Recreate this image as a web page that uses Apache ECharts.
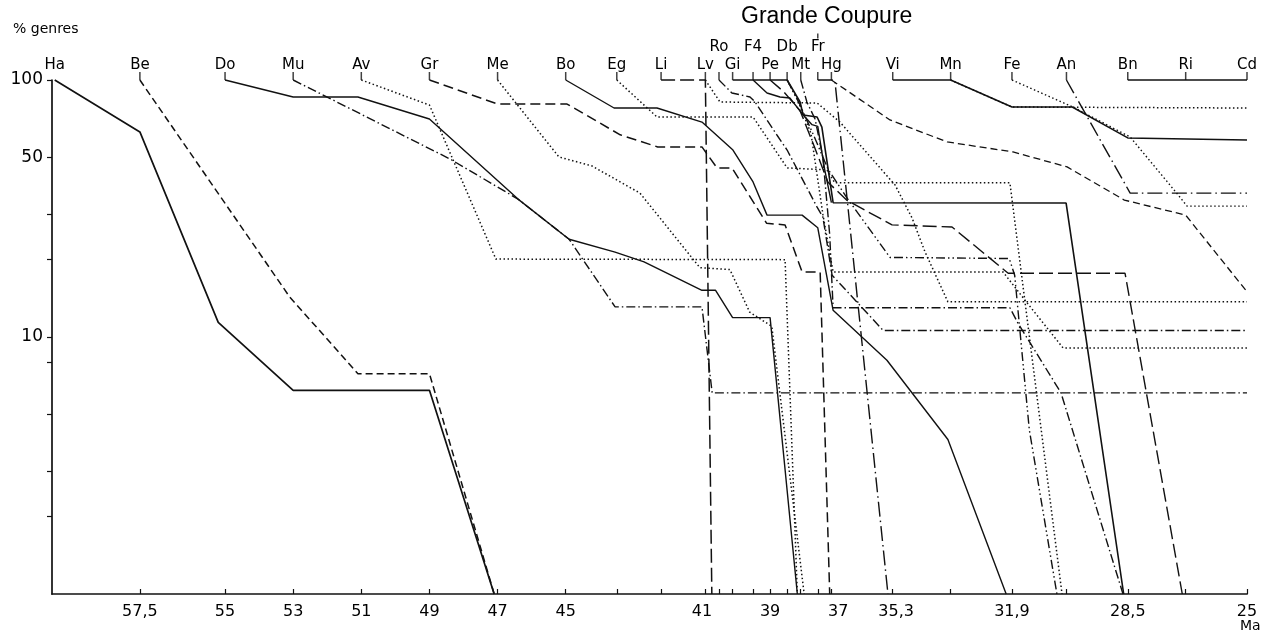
<!DOCTYPE html>
<html><head><meta charset="utf-8">
<script src="https://cdn.jsdelivr.net/npm/echarts@6/dist/echarts.min.js"></script>
<style>html,body{margin:0;padding:0;background:#fff}#c{width:1273px;height:633px}</style>
</head><body><div id="c"></div>
<script>
// Reference levels (stage codes) and their ages in Ma
const stageNames = ['Ha','Be','Do','Mu','Av','Gr','Me','Bo','Eg','Li','Lv','Ro','Gi','F4','Pe','Db','Mt','Fr','Hg','Vi','Mn','Fe','An','Bn','Ri','Cd'];
const stageAges  = [60.0,57.5,55.0,53.0,51.0,49.0,47.0,45.0,43.5,42.2,40.9,40.5,40.1,39.5,39.0,38.5,38.1,37.6,37.2,35.4,33.7,31.9,30.3,28.5,26.8,25.0];
const upperRow = ['Ro','F4','Db','Fr'];
const xTickLabels = [57.5,55,53,51,49,47,45,41,39,37,35.3,31.9,28.5,25];
const yTickLabels = [10,50,100];
const yTicks = [2,3,5,8,10,20,30,50,100];

// Survivorship curves: [Ma, % genres]
const curveHa = [[60.0,100],[57.5,62.8],[55.2,11.4],[53.0,6.2],[49.0,6.2],[47.1,1]];
const curveBe = [[57.5,100],[53.1,14.3],[51.1,7.2],[49.0,7.2],[47.1,1]];
const curveDo = [[55.0,100],[53.0,85.9],[51.1,85.9],[49.0,70.5],[46.4,34.4],[44.9,24.0],[43.55,21.4],[42.7,19.6],[41.0,15.2],[40.6,15.2],[40.1,11.9],[39.0,11.9],[38.2,1]];
const curveMu = [[53.0,100],[48.4,49.3],[46.4,34.4],[44.9,24.0],[43.55,13.1],[41.0,13.1],[40.7,6.06],[25,6.06]];
const curveAv = [[51.0,100],[49.0,79.9],[47.05,20.1],[38.56,20.0],[38.2,1]];
const curveGr = [[49.0,100],[47.0,80.6],[44.96,80.6],[43.4,61.2],[42.3,54.9],[41.0,54.9],[40.56,45.5],[40.12,45.5],[39.1,27.7],[38.56,27.3],[38.06,17.9],[37.53,17.9],[37.25,1]];
const curveMe = [[47.0,100],[45.2,50.2],[44.23,46.3],[42.82,36.3],[41.06,18.6],[40.18,18.3],[39.6,12.5],[38.95,11.0],[38.0,1]];
const curveBo = [[45.0,100],[43.58,77.8],[42.32,77.8],[41.0,68.6],[40.09,53.4],[39.5,40.1],[39.09,29.8],[38.06,29.8],[37.6,26.6],[37.15,12.7],[35.57,8.12],[33.78,3.99],[32.07,1]];
const curveEg = [[43.5,100],[42.32,71.8],[39.5,71.8],[38.5,45.5],[37.33,44.7],[37.1,39.8],[31.96,39.8],[30.43,1]];
const curveLi = [[42.2,100],[40.9,100],[40.71,1]];
const curveLv = [[40.9,100],[40.47,82.1],[37.62,81.4],[36.95,68.6],[35.33,39.0],[34.83,29.0],[34.45,21.4],[33.78,13.7],[25,13.7]];
const curveRo = [[40.5,100],[40.12,89.0],[39.59,85.9],[39.44,82.1],[38.8,61.1],[38.5,53.4],[37.62,32.0],[37.45,29.3],[37.18,17.4],[35.68,10.6],[25,10.6]];
const curveGi = [[40.1,100],[38.5,100],[38.12,82.1],[38.03,73.1],[37.62,71.8],[37.48,65.6],[37.15,33.3],[30.31,33.2],[28.62,1]];
const curveF4 = [[39.5,100],[39.09,89.0],[38.71,85.9],[38.42,85.1],[38.06,74.0],[37.77,67.0],[37.6,66.0],[37.4,45.0],[37.2,33.3]];
const curvePe = [[39.0,100],[38.6,90],[38.12,76],[37.7,55],[37.3,40],[36.74,34.0],[35.42,27.3],[33.66,26.8],[32.01,17.7],[28.58,17.7],[26.9,1]];
const curveDb = [[38.5,100],[38.12,80],[37.7,60],[37.3,45],[36.74,34.7],[35.48,20.4],[31.98,20.2],[31.82,17.4],[31.39,4.35],[30.58,1]];
const curveDb2 = [[38.5,100],[38.2,84],[37.8,62],[37.45,30],[37.15,17.9],[32.16,17.9],[31.46,13.6],[30.40,9.07],[25,9.07]];
const curveMt = [[38.1,100],[37.92,82.1],[37.68,70.5],[37.45,50],[37.25,25],[37.15,13.0],[31.96,13.0],[31.72,11.3],[30.46,6.06],[28.64,1]];
const curveFr = [[37.6,100],[37.1,100],[35.54,1]];
const curveHg = [[37.2,100],[35.48,69.9],[33.8,57.4],[31.87,52.5],[30.28,45.9],[28.6,34.1],[26.8,29.8],[25.0,15.0]];
const curveVi = [[35.4,100],[33.7,100],[31.9,78.5],[30.13,78.5],[28.5,59.5],[25,58.4]];
const curveMn = [[33.7,100],[31.9,78.5],[25,77.8]];
const curveFe = [[31.9,100],[30.11,78.5],[28.43,60.0],[27.02,35.7],[26.76,32.3],[25,32.3]];
const curveAn = [[30.3,100],[28.43,36.3],[25,36.3]];
const curveBn = [[28.5,100],[25,100]];

const dashTypes = {
  solid: 'solid',
  dashed: [7,4],
  dashed2: [10,5],
  longdash: [14,5],
  dotted: [1.5,2.5],
  dashdot: [9,3,1.5,3],
  dashdotdot: [9,3,1.5,3,1.5,3],
  longdashdot: [15,4,1.5,4]
};

const curves = [
  ['Ha', curveHa, 'solid', 1.7], ['Be', curveBe, 'dashed', 1.5], ['Do', curveDo, 'solid', 1.4],
  ['Mu', curveMu, 'dashdot', 1.4], ['Av', curveAv, 'dotted', 1.5], ['Gr', curveGr, 'dashed2', 1.5],
  ['Me', curveMe, 'dotted', 1.5], ['Bo', curveBo, 'solid', 1.4], ['Eg', curveEg, 'dotted', 1.5],
  ['Li', curveLi, 'longdash', 1.5], ['Lv', curveLv, 'dotted', 1.5], ['Ro', curveRo, 'dashdot', 1.4],
  ['Gi', curveGi, 'solid', 1.6], ['F4', curveF4, 'solid', 1.4], ['Pe', curvePe, 'longdash', 1.4],
  ['Db', curveDb, 'dashdotdot', 1.4], ['Db2', curveDb2, 'dotted', 1.5], ['Mt', curveMt, 'dashdot', 1.4],
  ['Fr', curveFr, 'longdashdot', 1.4], ['Hg', curveHg, 'dashed', 1.3], ['Vi', curveVi, 'solid', 1.5],
  ['Mn', curveMn, 'dotted', 1.5], ['Fe', curveFe, 'dotted', 1.4], ['An', curveAn, 'longdashdot', 1.4],
  ['Bn', curveBn, 'solid', 1.5]
];

const INK = '#111111';
const lineSeries = curves.map(([name, data, style, w]) => ({
  type: 'line', name, data, symbol: 'none', clip: false, silent: true,
  lineStyle: { color: INK, width: w, type: dashTypes[style] }
}));

const stubData = stageNames.map((n, i) => ({ name: n, value: [stageAges[i], 100] })).filter(d => d.name !== 'Ha');
const lowerLabels = stageNames.map((n, i) => ({ name: n, value: [stageAges[i], 100] })).filter(d => upperRow.indexOf(d.name) < 0);
const upperLabels = stageNames.map((n, i) => ({ name: n, value: [stageAges[i], 100] })).filter(d => upperRow.indexOf(d.name) >= 0);

const labelFont = { fontFamily: 'DejaVu Sans', fontSize: 15, color: '#000000', opacity: 1 };

const chart = echarts.init(document.getElementById('c'), null, { renderer: 'canvas' });
chart.setOption({
  animation: false,
  backgroundColor: '#ffffff',
  grid: { left: 52, right: 26, top: 80, bottom: 39, containLabel: false, outerBoundsMode: 'none' },
  xAxis: {
    type: 'value', inverse: true, min: 25, max: 60.08,
    axisLine: { show: true, onZero: false, lineStyle: { color: INK, width: 1.7 } },
    axisTick: { show: true, inside: true, length: 5, customValues: stageAges.slice(1), lineStyle: { color: INK, width: 1.2 } },
    axisLabel: { show: true, customValues: xTickLabels, margin: 10, fontFamily: 'DejaVu Sans', fontSize: 16, color: '#000',
      formatter: v => String(v).replace('.', ',') },
    splitLine: { show: false }
  },
  yAxis: {
    type: 'log', logBase: 10, min: 1, max: 100,
    axisLine: { show: true, lineStyle: { color: INK, width: 1.7 } },
    axisTick: { show: true, inside: false, length: 5, customValues: yTicks, lineStyle: { color: INK, width: 1.2 } },
    axisLabel: { show: true, customValues: yTickLabels, margin: 9, fontFamily: 'DejaVu Sans', fontSize: 17, color: '#000' },
    splitLine: { show: false }, minorTick: { show: false }
  },
  graphic: [
    { type: 'text', left: 13, top: 22, style: { text: '% genres', font: '14px "DejaVu Sans"', fill: '#000' } },
    { type: 'text', left: 741, top: 5, style: { text: 'Grande Coupure', font: '23px "Liberation Sans"', fill: '#000' } },
    { type: 'text', left: 1240, top: 619, style: { text: 'Ma', font: '14px "DejaVu Sans"', fill: '#000' } }
  ],
  series: lineSeries.concat([
    { type: 'scatter', name: 'stubs', data: stubData, symbol: 'rect', symbolSize: [1.5, 8], symbolOffset: [0, -4],
      itemStyle: { color: INK }, silent: true, clip: false, z: 3 },
    { type: 'scatter', name: 'frMark', data: [[37.6, 100]], symbol: 'rect', symbolSize: [1.5, 5], symbolOffset: [0, -44],
      itemStyle: { color: INK }, silent: true, clip: false },
    { type: 'scatter', name: 'lowerLabels', data: lowerLabels, symbolSize: 0.1, itemStyle: { color: '#fff', opacity: 1 }, silent: true, clip: false,
      label: Object.assign({ show: true, position: 'top', distance: 7, formatter: p => p.name }, labelFont) },
    { type: 'scatter', name: 'upperLabels', data: upperLabels, symbolSize: 0.1, itemStyle: { color: '#fff', opacity: 1 }, silent: true, clip: false,
      label: Object.assign({ show: true, position: 'top', distance: 25, formatter: p => p.name }, labelFont) }
  ])
});
</script></body></html>
